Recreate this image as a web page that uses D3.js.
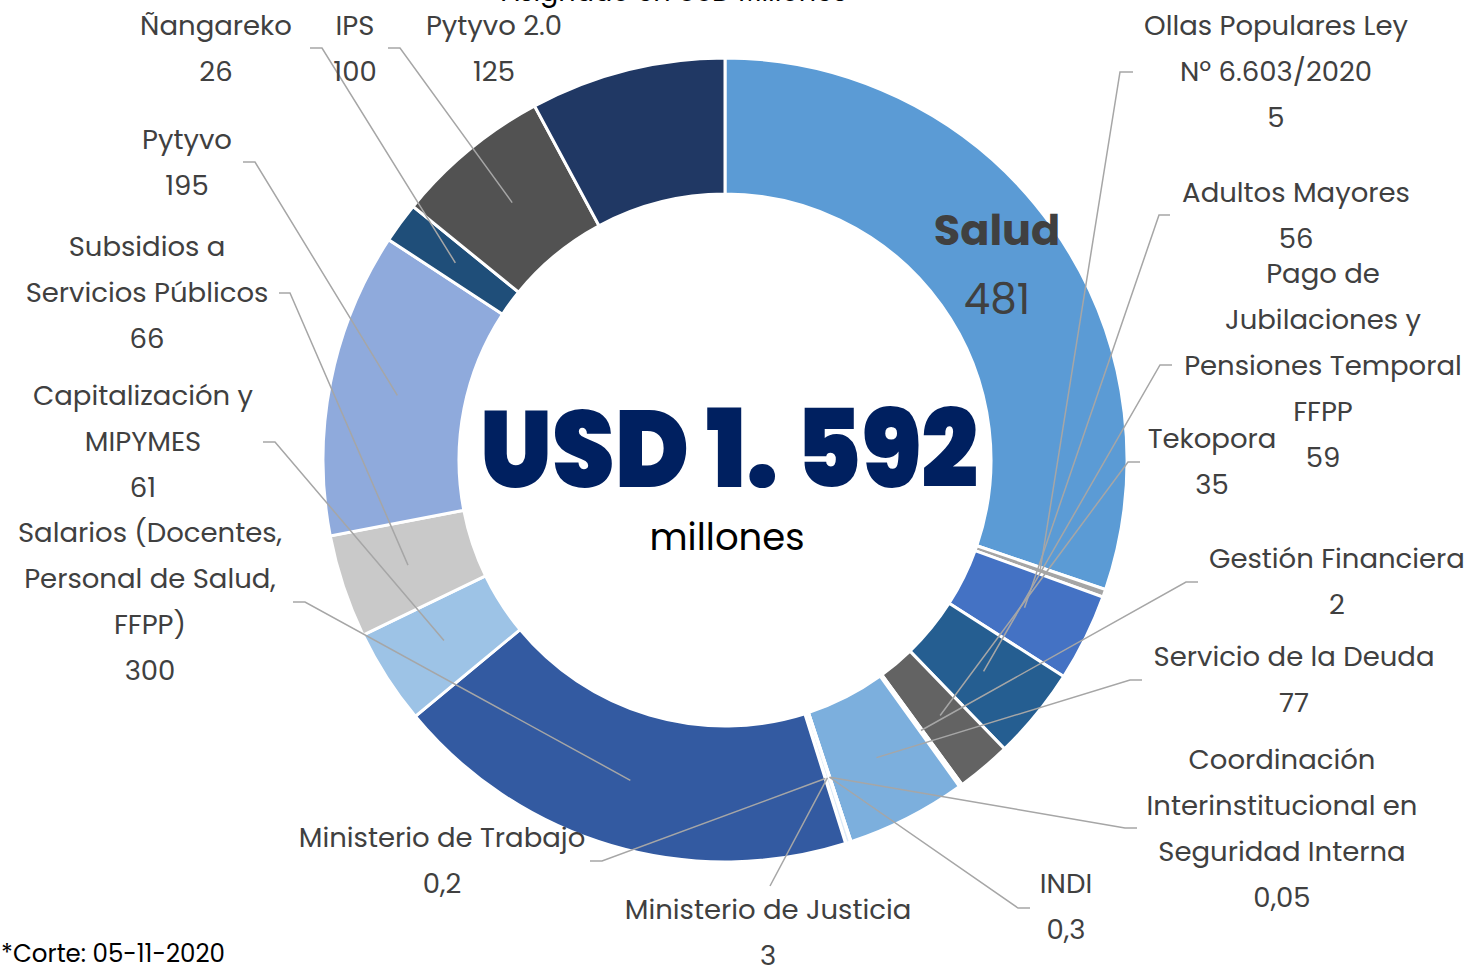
<!DOCTYPE html>
<html>
<head>
<meta charset="utf-8">
<script src="https://cdn.jsdelivr.net/npm/d3@7"></script>
<style>
  body { margin: 0; background: #fff; }
  svg text { font-family: Poppins, Inter, "Open Sans", sans-serif; }
</style>
</head>
<body>
<svg id="chart"></svg>
<script>
// data (USD millones), clockwise from 12 o'clock
const categories = [
  'Salud', 'Ollas Populares Ley Nº 6.603/2020', 'Adultos Mayores',
  'Pago de Jubilaciones y Pensiones Temporal FFPP', 'Tekopora', 'Gestión Financiera',
  'Servicio de la Deuda', 'Coordinación Interinstitucional en Seguridad Interna', 'INDI',
  'Ministerio de Justicia', 'Ministerio de Trabajo', 'Salarios (Docentes, Personal de Salud, FFPP)',
  'Capitalización y MIPYMES', 'Subsidios a Servicios Públicos', 'Pytyvo', 'Ñangareko', 'IPS', 'Pytyvo 2.0'
];
const values = [481, 5, 56, 59, 35, 2, 77, 0.05, 0.3, 3, 0.2, 300, 61, 66, 195, 26, 100, 125];

const palette = [
  '#5b9bd5', '#a5a5a5', '#4472c4', '#255e91', '#636363', '#e7e6e6',
  '#7cafdd', '#698ed0', '#5b9bd5', '#deebf7', '#9dc3e6', '#335aa1',
  '#9dc3e6', '#c9c9c9', '#8faadc', '#1f4e79', '#525252', '#203864'
];

const totalText = 'USD 1. 592';
const unitText = 'millones';
const titleText = 'Asignado en USD Millones';
const noteText = '*Corte: 05-11-2020';

// label layout: wrapped lines, centre x, first line y, leader stub
const labelLayout = {
  'Salud': { lines: ['Salud'], x: 997, y: 230, bold: true },
  'Ollas Populares Ley Nº 6.603/2020': { lines: ['Ollas Populares Ley', 'Nº 6.603/2020'], x: 1276, y: 25, stub: [[1133, 72], [1120, 72]] },
  'Adultos Mayores': { lines: ['Adultos Mayores'], x: 1296, y: 192, stub: [[1170, 215], [1159, 215]] },
  'Pago de Jubilaciones y Pensiones Temporal FFPP': { lines: ['Pago de', 'Jubilaciones y', 'Pensiones Temporal', 'FFPP'], x: 1323, y: 273, stub: [[1172, 365], [1160, 365]] },
  'Tekopora': { lines: ['Tekopora'], x: 1212, y: 438, stub: [[1140, 462], [1128, 462]] },
  'Gestión Financiera': { lines: ['Gestión Financiera'], x: 1337, y: 558, stub: [[1198, 582], [1186, 582]] },
  'Servicio de la Deuda': { lines: ['Servicio de la Deuda'], x: 1294, y: 656, stub: [[1142, 680], [1130, 680]] },
  'Coordinación Interinstitucional en Seguridad Interna': { lines: ['Coordinación', 'Interinstitucional en', 'Seguridad Interna'], x: 1282, y: 759, stub: [[1137, 828], [1125, 828]] },
  'INDI': { lines: ['INDI'], x: 1066, y: 883, stub: [[1030, 908], [1018, 908]] },
  'Ministerio de Justicia': { lines: ['Ministerio de Justicia'], x: 768, y: 909, stub: [[770, 886]] },
  'Ministerio de Trabajo': { lines: ['Ministerio de Trabajo'], x: 442, y: 837, stub: [[590, 861], [602, 861]] },
  'Salarios (Docentes, Personal de Salud, FFPP)': { lines: ['Salarios (Docentes,', 'Personal de Salud,', 'FFPP)'], x: 150, y: 532, stub: [[293, 602], [305, 602]] },
  'Capitalización y MIPYMES': { lines: ['Capitalización y', 'MIPYMES'], x: 143, y: 395, stub: [[263, 442], [275, 442]] },
  'Subsidios a Servicios Públicos': { lines: ['Subsidios a', 'Servicios Públicos'], x: 147, y: 246, stub: [[279, 293], [290, 293]] },
  'Pytyvo': { lines: ['Pytyvo'], x: 187, y: 139, stub: [[243, 162], [255, 162]] },
  'Ñangareko': { lines: ['Ñangareko'], x: 216, y: 25, stub: [[310, 48], [322, 48]] },
  'IPS': { lines: ['IPS'], x: 355, y: 25, stub: [[388, 48], [400, 48]] },
  'Pytyvo 2.0': { lines: ['Pytyvo 2.0'], x: 494, y: 25 }
};

const w = 1471;
const h = 965;
const cx = 725;
const cy = 460;
const outerR = 402;
const innerR = 266;
const lineGap = 46;

const svg = d3.select('#chart')
  .attr('width', w)
  .attr('height', h);

const dataset = categories.map((c, i) => ({ name: c, value: values[i] }));

const color = d3.scaleOrdinal()
  .domain(categories)
  .range(palette);

const pie = d3.pie()
  .sort(null)
  .value((d) => d.value);

const arc = d3.arc()
  .innerRadius(innerR)
  .outerRadius(outerR);

const arcs = pie(dataset);

const g = svg.append('g')
  .attr('transform', `translate(${cx}, ${cy})`);

g.selectAll('path.slice')
  .data(arcs)
  .enter()
  .append('path')
  .attr('class', 'slice')
  .attr('d', arc)
  .attr('fill', (d) => color(d.data.name))
  .attr('stroke', '#fff')
  .attr('stroke-width', 3);

// leader lines from label to the middle of each slice
const line = d3.line();
arcs.forEach((d) => {
  const lay = labelLayout[d.data.name];
  if (!lay || !lay.stub) return;
  const c = arc.centroid(d);
  const pts = lay.stub.concat([[c[0] + cx, c[1] + cy]]);
  svg.append('path')
    .attr('d', line(pts))
    .attr('fill', 'none')
    .attr('stroke', '#a6a6a6')
    .attr('stroke-width', 1.5);
});

// data labels
const fmt = (v) => String(v).replace('.', ',');
arcs.forEach((d) => {
  const lay = labelLayout[d.data.name];
  const isSalud = d.data.name === 'Salud';
  const txt = svg.append('text')
    .attr('text-anchor', 'middle')
    .attr('fill', '#404040')
    .style('font-size', isSalud ? '42px' : '27.5px');
  const rows = lay.lines.concat([fmt(d.data.value)]);
  const gap = isSalud ? 69 : lineGap;
  rows.forEach((r, i) => {
    txt.append('tspan')
      .attr('x', lay.x)
      .attr('y', lay.y + i * gap)
      .attr('dy', '0.35em')
      .style('font-weight', (isSalud && i === 0) ? 700 : 400)
      .style('font-size', (isSalud && i === 0) ? '43px' : null)
      .text(r);
  });
});

// centre total
svg.append('text')
  .attr('x', cx + 4)
  .attr('y', 487)
  .attr('text-anchor', 'middle')
  .attr('fill', '#002060')
  .attr('textLength', 498)
  .attr('lengthAdjust', 'spacingAndGlyphs')
  .style('font-size', '108px')
  .style('font-weight', 900)
  .text(totalText);

svg.append('text')
  .attr('x', cx + 2)
  .attr('y', 537)
  .attr('dy', '0.35em')
  .attr('text-anchor', 'middle')
  .attr('fill', '#000')
  .style('font-size', '37px')
  .text(unitText);

// title, cut off at top edge
svg.append('text')
  .attr('x', 674)
  .attr('y', 1)
  .attr('text-anchor', 'middle')
  .attr('fill', '#000')
  .style('font-size', '27px')
  .text(titleText);

svg.append('text')
  .attr('x', 1)
  .attr('y', 953)
  .attr('dy', '0.35em')
  .attr('fill', '#000')
  .style('font-size', '24.5px')
  .text(noteText);
</script>
</body>
</html>
